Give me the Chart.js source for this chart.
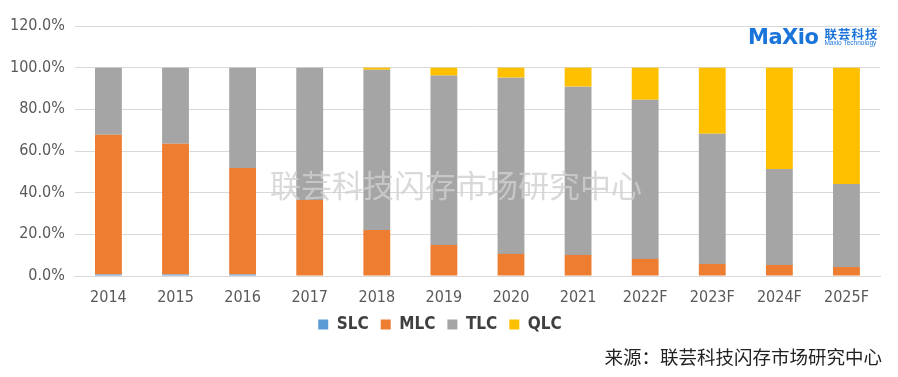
<!DOCTYPE html>
<html>
<head>
<meta charset="utf-8">
<script src="https://cdn.jsdelivr.net/npm/chart.js@4"></script>
<style>
  html,body{margin:0;padding:0;background:#fff;}
  #wrap{position:relative;width:898px;height:377px;}
  #logo{position:absolute;left:748px;top:25px;height:24px;display:flex;align-items:center;}
  #logo .mx{font-family:"DejaVu Sans",sans-serif;font-weight:bold;font-size:21px;color:#1b74d9;letter-spacing:-0.5px;}
  #logo .cn{margin-left:6px;line-height:1;}
  #logo .cn1{font-family:"Noto Sans CJK SC",sans-serif;font-weight:bold;font-size:12.5px;color:#1b74d9;letter-spacing:1px;}
  #logo .cn2{font-family:"Liberation Sans",sans-serif;font-size:6.5px;color:#1b74d9;}
  #src{position:absolute;right:16px;top:343px;font-family:"Noto Sans CJK SC",sans-serif;font-size:18.5px;color:#222;}
</style>
</head>
<body>
<div id="wrap">
  <canvas id="c" width="898" height="377"></canvas>
  <div id="logo"><span class="mx">MaXio</span><div class="cn"><div class="cn1">联芸科技</div><div class="cn2">Maxio Technology</div></div></div>
  <div id="src">来源：联芸科技闪存市场研究中心</div>
</div>
<script>
// 数据
const years=['2014','2015','2016','2017','2018','2019','2020','2021','2022F','2023F','2024F','2025F'];
const slc=[0.7,0.7,0.7,0,0,0,0,0,0,0,0,0];
const mlc=[67.1,62.8,51.2,36.5,22.1,14.9,10.6,10.1,8.2,5.8,5.3,4.3];
const tlc=[32.2,36.5,48.1,63.5,76.9,81.3,84.6,80.8,76.4,62.5,46.1,39.9];
const qlc=[0,0,0,0,1.0,3.8,4.8,9.1,15.4,31.7,48.6,55.8];

const watermark={
  id:'watermark',
  afterDatasetsDraw(chart){
    const {ctx}=chart;
    ctx.save();
    ctx.font='31px "Noto Sans CJK SC", sans-serif';
    ctx.fillStyle='rgba(208,208,208,0.8)';
    ctx.textAlign='center';ctx.textBaseline='middle';
    ctx.fillText('联芸科技闪存市场研究中心',456,185);
    ctx.restore();
  }
};

const tickFont={family:'"Liberation Sans Narrow","DejaVu Sans Condensed",sans-serif',size:16};
new Chart(document.getElementById('c'),{
  type:'bar',
  data:{labels:years,datasets:[
    {label:'SLC',data:slc,backgroundColor:'#5B9BD5'},
    {label:'MLC',data:mlc,backgroundColor:'#ED7D31'},
    {label:'TLC',data:tlc,backgroundColor:'#A5A5A5'},
    {label:'QLC',data:qlc,backgroundColor:'#FFC000'},
  ]},
  options:{
    responsive:false,animation:false,
    layout:{padding:{top:26,right:18,bottom:34,left:0}},
    datasets:{bar:{categoryPercentage:1,barPercentage:0.4,borderWidth:0}},
    plugins:{
      legend:{position:'bottom',labels:{boxWidth:10,boxHeight:10,padding:12,color:'#404040',
        font:{family:'"Liberation Sans Narrow","DejaVu Sans Condensed",sans-serif',size:17,weight:'bold'}}},
      tooltip:{enabled:false}
    },
    scales:{
      x:{stacked:true,grid:{display:false},border:{color:'#D9D9D9'},
        ticks:{color:'#595959',font:tickFont,padding:4},
        afterFit:s=>{s.height=28;}},
      y:{stacked:true,min:0,max:120,
        grid:{color:'#D9D9D9',drawTicks:false},border:{display:false},
        ticks:{stepSize:20,color:'#595959',font:tickFont,padding:10,callback:v=>v.toFixed(1)+'%'}}
    }
  },
  plugins:[watermark]
});
</script>
</body>
</html>
